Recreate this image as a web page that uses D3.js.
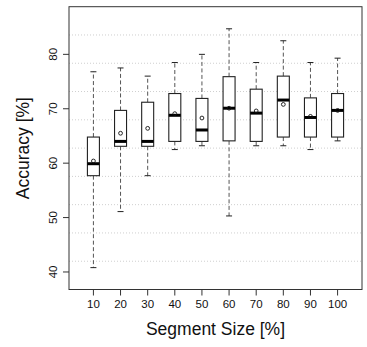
<!DOCTYPE html>
<html>
<head>
<meta charset="utf-8">
<script src="https://cdn.jsdelivr.net/npm/d3@7"></script>
<style>
  html, body { margin: 0; padding: 0; background: #fff; }
  svg { display: block; font-family: "Liberation Sans", Arial, sans-serif; }
</style>
</head>
<body>
<svg id="chart" width="367" height="347"></svg>
<script>
// ---- data ----
const categories = ["10", "20", "30", "40", "50", "60", "70", "80", "90", "100"];
const whiskerLow  = [40.8, 51.1, 57.7, 62.5, 63.2, 50.3, 63.2, 63.2, 62.5, 64.1];
const boxLow      = [57.7, 63.1, 63.1, 64.0, 64.0, 64.1, 64.0, 64.8, 64.8, 64.8];
const medians     = [59.9, 64.0, 64.0, 68.8, 66.1, 70.1, 69.2, 71.6, 68.4, 69.7];
const boxHigh     = [64.8, 69.7, 71.2, 72.8, 71.9, 75.9, 73.6, 76.0, 72.0, 72.8];
const whiskerHigh = [76.8, 77.5, 76.0, 78.5, 80.0, 84.7, 78.5, 82.5, 78.5, 79.3];
const means       = [60.4, 65.5, 66.4, 69.1, 68.3, 70.1, 69.6, 70.8, 68.6, 69.7];
const yTicks = [40, 50, 60, 70, 80];
const xLabel = "Segment Size [%]";
const yLabel = "Accuracy [%]";

// ---- layout ----
const svg = d3.select("#chart");
const pLeft = 69, pRight = 362, pTop = 6.7, pBottom = 289.5;

const yDomain = [36.78, 88.76];
const y = d3.scaleLinear().domain(yDomain).range([pBottom, pTop]);
const x = d3.scaleLinear().domain([0.1, 10.9]).range([pLeft, pRight]);
const xc = i => x(i + 1);
const boxW = 12, capW = 6;

// grid: 10 equal divisions of the y range (dotted)
const gridVals = d3.range(1, 10).map(k => yDomain[0] + k * (yDomain[1] - yDomain[0]) / 10);
svg.append("g").selectAll("line").data(gridVals).join("line")
  .attr("x1", pLeft).attr("x2", pRight)
  .attr("y1", d => y(d)).attr("y2", d => y(d))
  .attr("stroke", "#cfcfcf").attr("stroke-width", 1)
  .attr("stroke-dasharray", "1,2");

// boxes
const g = svg.append("g");
categories.forEach((c, i) => {
  const cx = xc(i);
  // whiskers
  g.append("line").attr("x1", cx).attr("x2", cx)
    .attr("y1", y(boxHigh[i])).attr("y2", y(whiskerHigh[i]))
    .attr("stroke", "#555").attr("stroke-width", 1).attr("stroke-dasharray", "4,2.5");
  g.append("line").attr("x1", cx).attr("x2", cx)
    .attr("y1", y(boxLow[i])).attr("y2", y(whiskerLow[i]))
    .attr("stroke", "#555").attr("stroke-width", 1).attr("stroke-dasharray", "4,2.5");
  // caps
  [whiskerHigh[i], whiskerLow[i]].forEach(v => {
    g.append("line").attr("x1", cx - capW / 2).attr("x2", cx + capW / 2)
      .attr("y1", y(v)).attr("y2", y(v))
      .attr("stroke", "#222").attr("stroke-width", 1);
  });
  // box
  g.append("rect")
    .attr("x", cx - boxW / 2).attr("width", boxW)
    .attr("y", y(boxHigh[i])).attr("height", y(boxLow[i]) - y(boxHigh[i]))
    .attr("fill", "#fff").attr("stroke", "#222").attr("stroke-width", 1.1);
  // median
  g.append("line").attr("x1", cx - boxW / 2).attr("x2", cx + boxW / 2)
    .attr("y1", y(medians[i])).attr("y2", y(medians[i]))
    .attr("stroke", "#000").attr("stroke-width", 3);
  // mean
  g.append("circle").attr("cx", cx).attr("cy", y(means[i])).attr("r", 1.9)
    .attr("fill", "none").attr("stroke", "#111").attr("stroke-width", 0.9);
});

// frame
svg.append("rect").attr("x", pLeft).attr("y", pTop)
  .attr("width", pRight - pLeft).attr("height", pBottom - pTop)
  .attr("fill", "none").attr("stroke", "#333").attr("stroke-width", 1);

// y axis ticks + labels
const yAxis = svg.append("g");
yTicks.forEach(t => {
  yAxis.append("line").attr("x1", pLeft - 6).attr("x2", pLeft)
    .attr("y1", y(t)).attr("y2", y(t)).attr("stroke", "#333");
  yAxis.append("text")
    .attr("transform", `translate(56.5,${y(t)}) rotate(-90)`)
    .attr("text-anchor", "middle").attr("font-size", 11.5).attr("fill", "#111")
    .text(t);
});

// x axis ticks + labels
const xAxis = svg.append("g");
categories.forEach((c, i) => {
  xAxis.append("line").attr("x1", xc(i)).attr("x2", xc(i))
    .attr("y1", pBottom).attr("y2", pBottom + 6).attr("stroke", "#333");
  xAxis.append("text").attr("x", xc(i)).attr("y", 308)
    .attr("text-anchor", "middle").attr("font-size", 11.5).attr("fill", "#111")
    .text(c);
});

// axis titles
svg.append("text").attr("x", (pLeft + pRight) / 2).attr("y", 334.5)
  .attr("text-anchor", "middle").attr("font-size", 17.5).attr("fill", "#111")
  .text(xLabel);
svg.append("text")
  .attr("transform", `translate(29.3,${(pTop + pBottom) / 2}) rotate(-90)`)
  .attr("text-anchor", "middle").attr("font-size", 17.5).attr("fill", "#111")
  .text(yLabel);
</script>
</body>
</html>
